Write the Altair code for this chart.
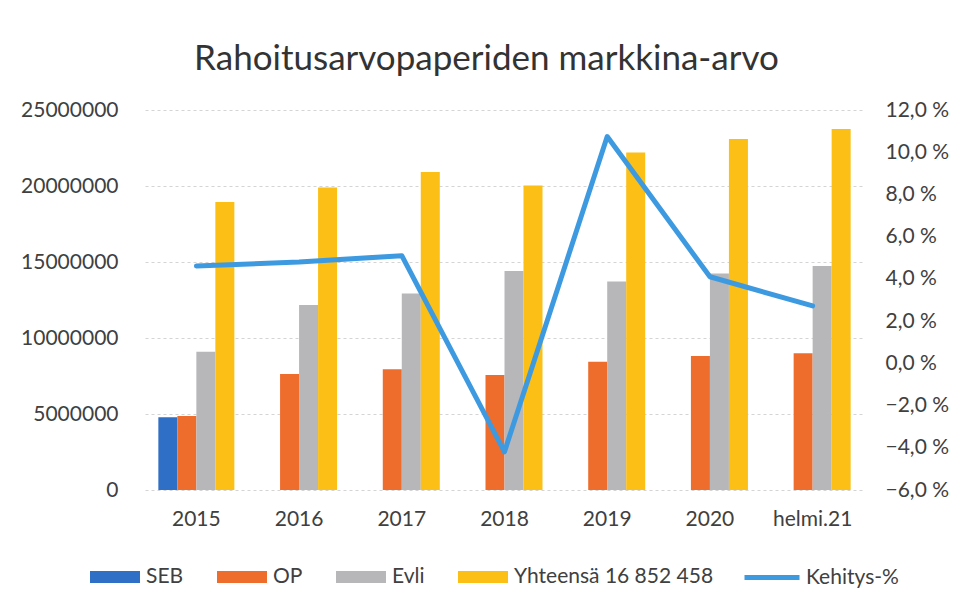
import altair as alt
import pandas as pd

categories = ["2015", "2016", "2017", "2018", "2019", "2020", "helmi.21"]
series_names = ["SEB", "OP", "Evli", "Yhteensä 16 852 458"]
series_colors = ["#2f6fc5", "#ee6c2c", "#b7b6b9", "#fcbf16"]

seb = [4780000, None, None, None, None, None, None]
op = [4870000, 7630000, 7940000, 7570000, 8440000, 8820000, 8990000]
evli = [9100000, 12170000, 12920000, 14410000, 13710000, 14250000, 14740000]
yhteensa = [18950000, 19900000, 20920000, 20040000, 22200000, 23090000, 23750000]
kehitys = [4.61, 4.8, 5.1, -4.19, 10.74, 4.1, 2.72]

left_ticks = [0, 5000000, 10000000, 15000000, 20000000, 25000000]
right_ticks = [-6, -4, -2, 0, 2, 4, 6, 8, 10, 12]

rows = []
for name, vals in zip(series_names, [seb, op, evli, yhteensa]):
    for c, v in zip(categories, vals):
        if v is not None:
            rows.append({"kategoria": c, "sarja": name, "arvo": v})
bars_df = pd.DataFrame(rows)
line_df = pd.DataFrame({"kategoria": categories, "kehitys": kehitys, "nimi": "Kehitys-%"})

FONT = "Lato"
TXT = "#404040"

x_scale = alt.Scale(domain=categories, paddingInner=0.26, paddingOuter=0.13)
x_axis = alt.Axis(title=None, labelAngle=0, ticks=False, domain=False, labelPadding=18,
                  labelFontSize=21, labelFont=FONT, labelColor=TXT, grid=False)

bars = alt.Chart(bars_df).mark_bar().encode(
    x=alt.X("kategoria:N", sort=categories, scale=x_scale, axis=x_axis),
    xOffset=alt.XOffset("sarja:N", sort=series_names,
                        scale=alt.Scale(domain=series_names, paddingInner=0, paddingOuter=0)),
    y=alt.Y("arvo:Q", scale=alt.Scale(domain=[0, 25000000]),
            axis=alt.Axis(title=None, values=left_ticks, format="d", ticks=False, domain=False,
                          labelPadding=27, labelFontSize=21, labelFont=FONT, labelColor=TXT,
                          grid=True, gridDash=[3, 3], gridColor="#d4d4d4", gridWidth=1)),
    color=alt.Color("sarja:N", scale=alt.Scale(domain=series_names, range=series_colors),
                    legend=alt.Legend(title=None, orient="none", direction="horizontal",
                                      legendX=-55, legendY=442, padding=0,
                                      symbolType="M-1,-0.24H1V0.24H-1Z", symbolSize=2500,
                                      symbolStrokeWidth=0, labelOffset=6, columnPadding=33,
                                      labelLimit=400,
                                      labelFontSize=21, labelFont=FONT, labelColor=TXT)),
)

line = alt.Chart(line_df).mark_line(strokeWidth=5, strokeJoin="round", strokeCap="round").encode(
    x=alt.X("kategoria:N", sort=categories, scale=x_scale, axis=x_axis),
    y=alt.Y("kehitys:Q", scale=alt.Scale(domain=[-6, 12]),
            axis=alt.Axis(title=None, orient="right", values=right_ticks, ticks=False, domain=False,
                          labelExpr="replace(format(datum.value, '.1f'), '.', ',') + ' %'",
                          labelPadding=21, labelFontSize=21, labelFont=FONT, labelColor=TXT,
                          grid=False)),
    stroke=alt.Stroke("nimi:N", scale=alt.Scale(domain=["Kehitys-%"], range=["#3e9ae0"]),
                      legend=alt.Legend(title=None, orient="none", legendX=597, legendY=437.5,
                                        padding=0, symbolType="M-1,0H1", symbolSize=3025,
                                        symbolStrokeWidth=5, labelOffset=4, labelLimit=400,
                                        labelFontSize=21, labelFont=FONT, labelColor=TXT)),
)

chart = alt.layer(bars, line).resolve_scale(y="independent", color="independent").properties(
    width=719,
    height=380,
    autosize=alt.AutoSizeParams(type="none"),
    padding={"left": 145, "top": 110, "right": 93, "bottom": 116},
    background="white",
    title=alt.Title("Rahoitusarvopaperiden markkina-arvo", fontSize=35, font=FONT,
                    fontWeight="normal", color="#333333", anchor="middle", dx=-18, offset=22),
).configure_view(stroke=None)

chart.save("out.html", embed_options={"renderer": "svg", "actions": False})
